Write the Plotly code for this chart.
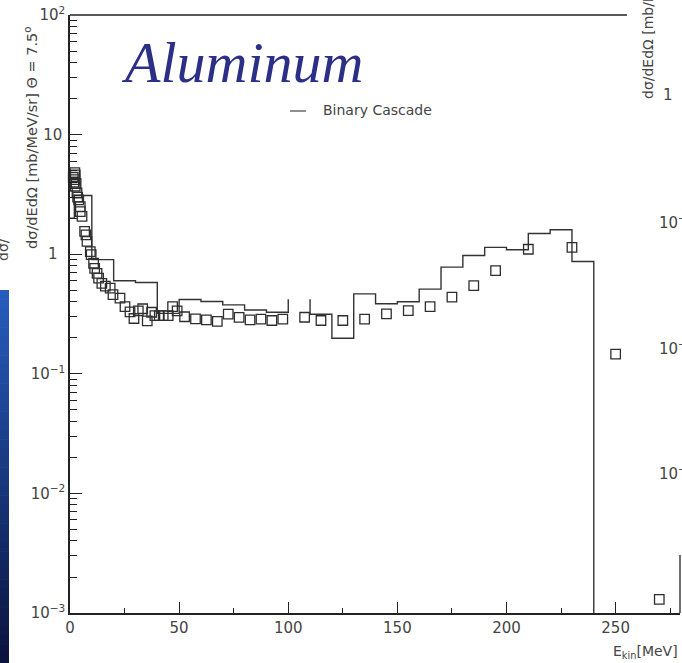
import plotly.graph_objects as go

# ---------------- data ----------------
# Binary Cascade histogram (bin edges in MeV, bin contents)
hist_edges = [0, 2, 10, 20, 30, 40, 50, 60, 70, 80, 90, 100, 110, 120, 130,
              140, 150, 160, 170, 180, 190, 200, 210, 220, 230, 240]
hist_values = [2.0, 3.1, 0.90, 0.60, 0.58, 0.32, 0.418, 0.402, 0.377, 0.342,
               0.327, 0.42, 0.315, 0.198, 0.466, 0.385, 0.40, 0.51, 0.78,
               0.975, 1.14, 1.09, 1.49, 1.60, 0.87]
hist_gap_bin = 100  # bin whose top edge is not drawn

# measured data (open squares)
data_x = [1.5, 2.2, 2.4, 1.8, 2.2, 2.8, 2.4, 3.2, 3.5, 4.0, 4.7, 4.7, 5.5,
          6.7, 7.3, 7.8, 9.3, 9.7, 10.8, 11.3, 12.4, 13.1, 14.6, 16.2, 18.4,
          19.7, 22.9, 25.2, 27.5, 29.3, 31.3, 33.3, 35.4, 37.4, 38.9, 40.9,
          42.7, 45.0, 47.0, 49.1, 52.5, 57.5, 62.5, 67.5, 72.5, 77.5, 82.5,
          87.5, 92.5, 97.5, 107.5, 115, 125, 135, 145, 155, 165, 175, 185,
          195, 210, 230, 250, 270]
data_y = [4.4, 4.8, 4.6, 4.0, 4.2, 3.9, 3.7, 3.25, 3.0, 2.85, 2.5, 2.27, 2.07,
          1.55, 1.45, 1.28, 1.05, 0.99, 0.84, 0.76, 0.69, 0.63, 0.57, 0.54,
          0.52, 0.46, 0.43, 0.365, 0.33, 0.29, 0.336, 0.35, 0.277, 0.327,
          0.307, 0.307, 0.307, 0.307, 0.365, 0.336, 0.30, 0.288, 0.282, 0.274,
          0.315, 0.296, 0.282, 0.286, 0.279, 0.286, 0.297, 0.279, 0.279,
          0.286, 0.317, 0.338, 0.365, 0.437, 0.547, 0.73, 1.10, 1.14, 0.146,
          0.0013]

y_tickvals = [1e-3, 1e-2, 1e-1, 1, 10, 100]
y_ticktext = ["10<sup>−3</sup>", "10<sup>−2</sup>", "10<sup>−1</sup>",
              "1&nbsp;\u2009", "10\u2009", "10<sup>2</sup>"]
y_minor = [k * 10.0 ** e for e in range(-3, 2) for k in range(2, 10)]

title_text = "Aluminum"
legend_text = "Binary Cascade"
ytitle_text = "dσ/dEdΩ [mb/MeV/sr] Θ = 7.5<sup>o</sup>"
xtitle_text = "E<sub>kin</sub>[MeV]"

# ---------------- geometry helpers (pixel -> paper) ----------------
L, T, R, B = 70, 15, 680, 613
def px(p):
    return (p - L) / (R - L)
def py(p):
    return (B - p) / (B - T)

# histogram path (step)
hx, hy = [], []
for i, v in enumerate(hist_values):
    lo, hi = hist_edges[i], hist_edges[i + 1]
    if lo == hist_gap_bin:
        hx += [lo, None, hi]
        hy += [v, None, v]
    else:
        hx.append(lo)
        hy.append(v)
hx.append(hist_edges[-1])
hy.append(y_tickvals[0])

FONT = "DejaVu Sans"
TXT = "#444"
AX = "#222"

fig = go.Figure()
fig.add_trace(go.Scatter(x=hx, y=hy, mode="lines", line_shape="hv",
                         line=dict(color="#333333", width=1.4),
                         connectgaps=False, showlegend=False))
fig.add_trace(go.Scatter(x=data_x, y=data_y, mode="markers",
                         marker=dict(symbol="square-open", size=9.5,
                                     color="#2e2e2e",
                                     line=dict(width=1.3, color="#2e2e2e")),
                         showlegend=False, cliponaxis=False))
# carrier trace for the minor-tick overlay axis
fig.add_trace(go.Scatter(x=[None], y=[None], yaxis="y2", mode="markers",
                         showlegend=False, hoverinfo="skip"))

shapes = []
# left blue strip (slide background)
n = 40
y_top, y_bot = 290, 663
c0, c1 = (38, 92, 190), (12, 20, 62)
for i in range(n):
    t = i / (n - 1)
    col = tuple(int(c0[k] + (c1[k] - c0[k]) * t) for k in range(3))
    ya = y_top + (y_bot - y_top) * i / n
    yb = y_top + (y_bot - y_top) * (i + 1) / n + 0.6
    shapes.append(dict(type="rect", xref="paper", yref="paper",
                       x0=px(0), x1=px(9), y0=py(yb), y1=py(ya),
                       fillcolor="rgb(%d,%d,%d)" % col, line=dict(width=0),
                       layer="above"))
# top frame line
shapes.append(dict(type="line", xref="paper", yref="paper",
                   x0=0, x1=px(627), y0=1, y1=1,
                   line=dict(color=AX, width=1.3)))
# short right vertical line
shapes.append(dict(type="line", xref="paper", yref="paper",
                   x0=1, x1=1, y0=0, y1=py(555),
                   line=dict(color=AX, width=1.3)))
# legend sample line
shapes.append(dict(type="line", xref="paper", yref="paper",
                   x0=px(290), x1=px(306), y0=py(111), y1=py(111),
                   line=dict(color="#444", width=1.2)))

annotations = [
    dict(text=title_text, xref="paper", yref="paper", x=px(242), y=py(63),
         xanchor="center", yanchor="middle", showarrow=False,
         font=dict(family="Liberation Serif", size=58, color="#2b2f86",
                   style="italic")),
    dict(text=legend_text, xref="paper", yref="paper", x=px(321), y=py(110),
         xanchor="left", yanchor="middle", showarrow=False,
         font=dict(family=FONT, size=14, color=TXT)),
    dict(text=ytitle_text, xref="paper", yref="paper", x=px(31), y=py(138),
         xanchor="center", yanchor="middle", textangle=-90, showarrow=False,
         font=dict(family=FONT, size=14.5, color=TXT)),
    dict(text=xtitle_text, xref="paper", yref="paper", x=1.0, y=py(652),
         xanchor="right", yanchor="middle", showarrow=False,
         font=dict(family=FONT, size=14, color=TXT)),
    # clipped neighbour-panel labels on the right
    dict(text="dσ/dEdΩ [mb/MeV/sr] Θ = 7.5°", xref="paper", yref="paper",
         x=px(648), y=py(101), xanchor="center", yanchor="bottom",
         textangle=-90, showarrow=False,
         font=dict(family=FONT, size=14, color=TXT)),
    dict(text="1", xref="paper", yref="paper", x=px(668), y=py(95),
         xanchor="center", yanchor="middle", showarrow=False,
         font=dict(family=FONT, size=15, color=TXT)),
    # clipped label on the far left
    dict(text="dσ/", xref="paper", yref="paper", x=px(3), y=py(250),
         xanchor="center", yanchor="middle", textangle=-90, showarrow=False,
         font=dict(family=FONT, size=14, color=TXT)),
]
for yy in [222, 348, 473]:
    annotations.append(dict(text="10<sup>−1</sup>", xref="paper", yref="paper",
                            x=px(657), y=py(yy), xanchor="left",
                            yanchor="middle", showarrow=False,
                            font=dict(family=FONT, size=15, color=TXT)))

fig.update_layout(
    width=682, height=663,
    margin=dict(l=L, r=682 - R, t=T, b=663 - B),
    paper_bgcolor="white", plot_bgcolor="white",
    shapes=shapes, annotations=annotations,
    xaxis=dict(range=[0, 279.5], tickmode="linear", tick0=0, dtick=50,
               ticks="inside", ticklen=11, tickwidth=1.3, tickcolor=AX,
               showline=True, linecolor=AX, linewidth=1.5,
               showgrid=False, zeroline=False,
               tickfont=dict(family=FONT, size=15, color=TXT),
               minor=dict(ticks="inside", ticklen=5, tickwidth=1.2,
                          tickcolor=AX, dtick=25, tick0=0, showgrid=False)),
    yaxis=dict(type="log", range=[-3, 2], tickmode="array",
               tickvals=y_tickvals, ticktext=y_ticktext,
               ticks="inside", ticklen=12, tickwidth=1.3, tickcolor=AX,
               showline=True, linecolor=AX, linewidth=1.5,
               showgrid=False, zeroline=False,
               tickfont=dict(family=FONT, size=15, color=TXT)),
    yaxis2=dict(type="log", range=[-3, 2], overlaying="y", side="left",
                tickmode="array", tickvals=y_minor, ticks="inside",
                ticklen=7, tickwidth=1.2, tickcolor=AX,
                showticklabels=False, showline=False, showgrid=False,
                zeroline=False),
)

fig.write_html("out.html")
